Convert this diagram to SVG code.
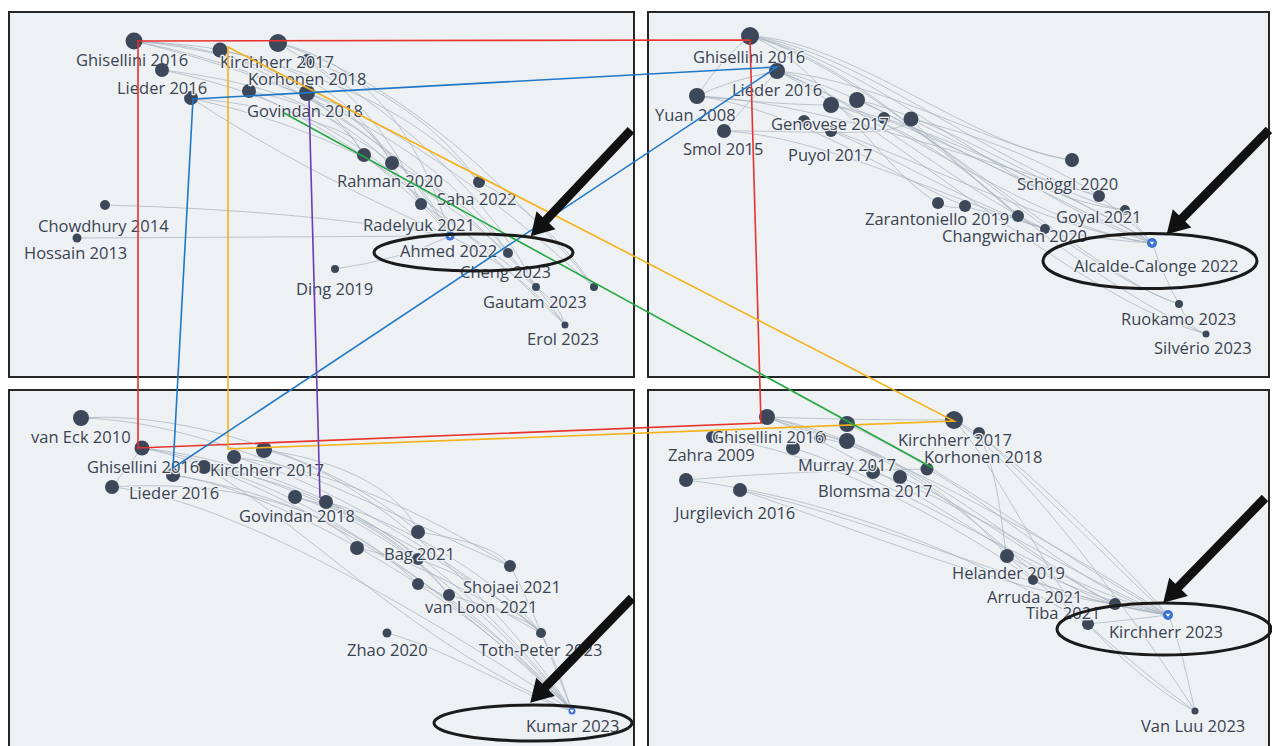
<svg xmlns="http://www.w3.org/2000/svg" xmlns:xlink="http://www.w3.org/1999/xlink" width="1272" height="746" viewBox="0 0 1272 746">
<style>
.panel{fill:#eef1f3;stroke:#262626;stroke-width:2}
.edge{fill:none;stroke:#a7b1bd;stroke-width:0.9;opacity:0.8}
.node{fill:#3c475a}
.sel{fill:#3a72d2}
.lbl{font-family:"Open Sans","Liberation Sans",sans-serif;font-size:16.5px;fill:#3a4352;paint-order:stroke;stroke:#eef1f3;stroke-width:2.5px;stroke-linejoin:round}
.hl{fill:none;stroke:#1a1a1a;stroke-width:3}
.arrow{fill:#111}
.c{fill:none;stroke-width:1.6}
</style>
<defs>
<path id="arr" d="M0,-4.5 L124,-4.5 L124,-13 L146,0 L124,13 L124,4.5 L0,4.5 Z"/>
<path id="chk" d="M-2.3,-1.3 L2.3,-1.3 L0,2.1 Z" fill="#ffffff"/>
</defs>
<rect width="1272" height="746" fill="#ffffff"/>
<g id="panels">
<rect class="panel" x="9" y="12" width="625" height="365"/>
<rect class="panel" x="648" y="12" width="621" height="365"/>
<rect class="panel" x="9" y="390" width="625" height="372"/>
<rect class="panel" x="648" y="390" width="621" height="372"/>
</g>
<g id="edges-tl">
<path class="edge" d="M134,41 Q300,50 364,155"/>
<path class="edge" d="M134,41 Q330,60 392,163"/>
<path class="edge" d="M134,41 Q380,90 450,236"/>
<path class="edge" d="M134,41 Q420,110 508,253"/>
<path class="edge" d="M134,41 Q200,45 220,50"/>
<path class="edge" d="M220,50 Q340,70 392,163"/>
<path class="edge" d="M220,50 Q400,90 479,182"/>
<path class="edge" d="M220,50 Q420,150 536,287"/>
<path class="edge" d="M278,43 Q400,70 450,236"/>
<path class="edge" d="M278,43 Q430,90 594,287"/>
<path class="edge" d="M278,43 Q380,100 421,204"/>
<path class="edge" d="M162,70 Q330,90 364,155"/>
<path class="edge" d="M162,70 Q360,110 450,236"/>
<path class="edge" d="M191,98 Q330,110 392,163"/>
<path class="edge" d="M191,98 Q380,140 508,253"/>
<path class="edge" d="M191,98 Q300,170 450,236"/>
<path class="edge" d="M249,91 Q360,110 421,204"/>
<path class="edge" d="M249,91 Q400,160 565,325"/>
<path class="edge" d="M307,93 Q380,120 450,236"/>
<path class="edge" d="M307,93 Q420,130 594,287"/>
<path class="edge" d="M307,60 Q420,100 479,182"/>
<path class="edge" d="M307,60 Q470,160 536,287"/>
<path class="edge" d="M364,155 Q420,200 450,236"/>
<path class="edge" d="M392,163 Q470,200 508,253"/>
<path class="edge" d="M479,182 Q540,210 594,287"/>
<path class="edge" d="M421,204 Q480,240 536,287"/>
<path class="edge" d="M450,236 Q520,270 565,325"/>
<path class="edge" d="M508,253 Q540,290 565,325"/>
<path class="edge" d="M536,287 Q560,305 565,325"/>
<path class="edge" d="M105,205 Q300,210 450,236"/>
<path class="edge" d="M77,238 L450,236"/>
<path class="edge" d="M335,269 Q400,260 450,236"/>
</g>
<g id="edges-tr">
<path class="edge" d="M750,36 C850,40 980,150 1072,160"/>
<path class="edge" d="M750,36 C860,50 1000,170 1099,196"/>
<path class="edge" d="M750,36 C870,60 1020,200 1152,243"/>
<path class="edge" d="M750,36 C850,60 950,160 1018,216"/>
<path class="edge" d="M750,36 C880,70 1050,260 1179,304"/>
<path class="edge" d="M750,36 C820,60 880,170 938,203"/>
<path class="edge" d="M777,71 C880,80 1000,150 1072,160"/>
<path class="edge" d="M777,71 C870,90 1020,200 1125,210"/>
<path class="edge" d="M777,71 C880,110 1040,230 1152,243"/>
<path class="edge" d="M777,71 C860,100 960,190 1045,229"/>
<path class="edge" d="M777,71 C880,120 1080,300 1206,334"/>
<path class="edge" d="M697,96 Q720,60 750,36"/>
<path class="edge" d="M697,96 Q730,80 777,71"/>
<path class="edge" d="M697,96 C800,100 950,150 1099,196"/>
<path class="edge" d="M697,96 C800,110 900,180 965,206"/>
<path class="edge" d="M697,96 Q780,105 831,105"/>
<path class="edge" d="M724,131 Q750,100 777,71"/>
<path class="edge" d="M724,131 C820,135 950,200 1045,229"/>
<path class="edge" d="M724,131 C800,130 900,140 911,119"/>
<path class="edge" d="M831,105 C920,120 1050,200 1152,243"/>
<path class="edge" d="M831,105 C930,130 1000,200 1018,216"/>
<path class="edge" d="M857,100 C950,120 1060,200 1125,210"/>
<path class="edge" d="M857,100 C940,130 1100,280 1179,304"/>
<path class="edge" d="M884,118 C980,150 1080,200 1152,243"/>
<path class="edge" d="M911,119 C1000,140 1060,170 1099,196"/>
<path class="edge" d="M911,119 C990,160 1120,220 1152,243"/>
<path class="edge" d="M911,119 C960,170 1100,290 1206,334"/>
<path class="edge" d="M831,131 C900,160 960,200 1045,229"/>
<path class="edge" d="M804,121 C900,150 1050,230 1152,243"/>
<path class="edge" d="M938,203 Q950,210 965,206"/>
<path class="edge" d="M965,206 Q990,215 1018,216"/>
<path class="edge" d="M1018,216 Q1030,225 1045,229"/>
<path class="edge" d="M1045,229 Q1100,240 1152,243"/>
<path class="edge" d="M1125,210 Q1140,230 1152,243"/>
<path class="edge" d="M1099,196 Q1130,220 1152,243"/>
<path class="edge" d="M1152,243 Q1165,280 1179,304"/>
<path class="edge" d="M1179,304 Q1190,330 1206,334"/>
</g>
<g id="edges-bl">
<path class="edge" d="M81,418 C200,410 350,470 418,532"/>
<path class="edge" d="M81,418 C220,420 400,520 510,566"/>
<path class="edge" d="M142,448 C260,460 380,520 418,559"/>
<path class="edge" d="M142,448 C260,470 480,600 572,711"/>
<path class="edge" d="M142,448 C280,470 460,560 541,633"/>
<path class="edge" d="M173,475 C280,490 470,600 572,711"/>
<path class="edge" d="M173,475 C260,490 340,520 357,548"/>
<path class="edge" d="M204,467 C300,480 400,530 449,595"/>
<path class="edge" d="M204,467 C320,490 480,620 572,711"/>
<path class="edge" d="M204,467 C300,520 420,650 572,711"/>
<path class="edge" d="M234,457 C330,470 420,510 510,566"/>
<path class="edge" d="M234,457 C330,480 480,580 541,633"/>
<path class="edge" d="M264,450 C340,460 400,490 418,532"/>
<path class="edge" d="M264,450 C360,470 500,600 572,711"/>
<path class="edge" d="M112,487 C220,480 330,500 418,584"/>
<path class="edge" d="M112,487 C240,500 450,630 572,711"/>
<path class="edge" d="M112,487 L142,448"/>
<path class="edge" d="M295,497 C360,510 420,560 449,595"/>
<path class="edge" d="M295,497 C380,520 500,620 572,711"/>
<path class="edge" d="M326,502 C400,520 500,580 541,633"/>
<path class="edge" d="M326,502 C420,540 520,640 572,711"/>
<path class="edge" d="M418,532 C470,540 500,550 510,566"/>
<path class="edge" d="M357,548 C420,560 480,600 541,633"/>
<path class="edge" d="M418,559 C480,580 530,620 541,633"/>
<path class="edge" d="M510,566 C530,600 560,680 572,711"/>
<path class="edge" d="M418,584 C470,600 530,670 572,711"/>
<path class="edge" d="M449,595 C500,610 530,620 541,633"/>
<path class="edge" d="M387,633 C450,650 530,700 572,711"/>
<path class="edge" d="M541,633 C555,660 565,690 572,711"/>
</g>
<g id="edges-br">
<path class="edge" d="M767,417 C850,420 920,420 954,420"/>
<path class="edge" d="M767,417 C900,450 1080,560 1168,615"/>
<path class="edge" d="M767,417 C880,440 960,500 1007,556"/>
<path class="edge" d="M767,417 C900,470 1050,590 1115,604"/>
<path class="edge" d="M767,417 Q800,430 847,441"/>
<path class="edge" d="M847,424 C950,470 1080,570 1168,615"/>
<path class="edge" d="M847,441 C950,480 1060,580 1115,604"/>
<path class="edge" d="M793,448 C900,480 1040,580 1168,615"/>
<path class="edge" d="M686,480 C800,470 900,470 927,469"/>
<path class="edge" d="M686,480 C850,500 1000,570 1088,624"/>
<path class="edge" d="M740,490 C880,520 1050,600 1168,615"/>
<path class="edge" d="M740,490 C860,530 1000,590 1115,604"/>
<path class="edge" d="M873,472 C960,500 1080,580 1168,615"/>
<path class="edge" d="M900,477 C980,510 1060,580 1115,604"/>
<path class="edge" d="M927,469 C990,500 1080,590 1168,615"/>
<path class="edge" d="M954,420 C1000,440 1120,560 1168,615"/>
<path class="edge" d="M954,420 C1020,460 1150,640 1195,711"/>
<path class="edge" d="M954,420 C1000,470 1060,600 1088,624"/>
<path class="edge" d="M979,433 C1000,480 1000,520 1007,556"/>
<path class="edge" d="M979,433 C1050,500 1150,600 1168,615"/>
<path class="edge" d="M1007,556 C1050,580 1100,600 1168,615"/>
<path class="edge" d="M1007,556 C1060,600 1150,680 1195,711"/>
<path class="edge" d="M1033,580 C1080,600 1140,610 1168,615"/>
<path class="edge" d="M1115,604 Q1140,610 1168,615"/>
<path class="edge" d="M1088,624 Q1130,620 1168,615"/>
<path class="edge" d="M1168,615 C1180,640 1190,690 1195,711"/>
<path class="edge" d="M1088,624 C1120,660 1170,700 1195,711"/>
<path class="edge" d="M820,438 C900,450 1000,540 1088,624"/>
<path class="edge" d="M712,437 C820,450 950,520 1033,580"/>
</g>
<g id="nodes-tl">
<g id="tl-ghisellini"><circle class="node" cx="134" cy="41" r="8.5"/><text class="lbl" x="76" y="66">Ghisellini 2016</text></g>
<g id="tl-n162"><circle class="node" cx="162" cy="70" r="7"/></g>
<g id="tl-lieder"><circle class="node" cx="191" cy="98" r="7"/><text class="lbl" x="117" y="94">Lieder 2016</text></g>
<g id="tl-n278"><circle class="node" cx="278" cy="43" r="9"/></g>
<g id="tl-n307"><circle class="node" cx="307" cy="60" r="6"/></g>
<g id="tl-kirchherr"><circle class="node" cx="220" cy="50" r="7.5"/><text class="lbl" x="220" y="68">Kirchherr 2017</text></g>
<g id="tl-n249"><circle class="node" cx="249" cy="91" r="7"/></g>
<g id="tl-korhonen"><circle class="node" cx="307" cy="93" r="8"/><text class="lbl" x="248" y="85">Korhonen 2018</text></g>
<g id="tl-govindan"><text class="lbl" x="247" y="117">Govindan 2018</text></g>
<g id="tl-n364"><circle class="node" cx="364" cy="155" r="7"/></g>
<g id="tl-rahman"><circle class="node" cx="392" cy="163" r="7"/><text class="lbl" x="337" y="187">Rahman 2020</text></g>
<g id="tl-saha"><circle class="node" cx="479" cy="182" r="6"/><text class="lbl" x="437" y="205">Saha 2022</text></g>
<g id="tl-n421"><circle class="node" cx="421" cy="204" r="6"/></g>
<g id="tl-radelyuk"><text class="lbl" x="363" y="231">Radelyuk 2021</text></g>
<g id="tl-ahmed"><circle class="sel" cx="450" cy="236" r="4.5"/><use href="#chk" x="450" y="236"/><text class="lbl" x="400" y="257">Ahmed 2022</text></g>
<g id="tl-n508"><circle class="node" cx="508" cy="253" r="5"/></g>
<g id="tl-cheng"><circle class="node" cx="536" cy="287" r="4"/><text class="lbl" x="460" y="278">Cheng 2023</text></g>
<g id="tl-gautam"><circle class="node" cx="594" cy="287" r="4"/><text class="lbl" x="483" y="308">Gautam 2023</text></g>
<g id="tl-erol"><circle class="node" cx="565" cy="325" r="3.5"/><text class="lbl" x="527" y="345">Erol 2023</text></g>
<g id="tl-ding"><circle class="node" cx="335" cy="269" r="4"/><text class="lbl" x="296" y="295">Ding 2019</text></g>
<g id="tl-chowdhury"><circle class="node" cx="105" cy="205" r="5"/><text class="lbl" x="38" y="232">Chowdhury 2014</text></g>
<g id="tl-hossain"><circle class="node" cx="77" cy="238" r="4.5"/><text class="lbl" x="24" y="259">Hossain 2013</text></g>
</g>
<g id="nodes-tr">
<g id="tr-ghisellini"><circle class="node" cx="750" cy="36" r="9"/><text class="lbl" x="693" y="63">Ghisellini 2016</text></g>
<g id="tr-lieder"><circle class="node" cx="777" cy="71" r="8"/><text class="lbl" x="732" y="96">Lieder 2016</text></g>
<g id="tr-yuan"><circle class="node" cx="697" cy="96" r="8"/><text class="lbl" x="655" y="121">Yuan 2008</text></g>
<g id="tr-smol"><circle class="node" cx="724" cy="131" r="7"/><text class="lbl" x="683" y="155">Smol 2015</text></g>
<g id="tr-n804"><circle class="node" cx="804" cy="121" r="6"/></g>
<g id="tr-n831b"><circle class="node" cx="831" cy="131" r="6"/></g>
<g id="tr-n831"><circle class="node" cx="831" cy="105" r="8"/></g>
<g id="tr-n857"><circle class="node" cx="857" cy="100" r="8"/></g>
<g id="tr-n884"><circle class="node" cx="884" cy="118" r="6"/></g>
<g id="tr-n911"><circle class="node" cx="911" cy="119" r="7.5"/></g>
<g id="tr-genovese"><text class="lbl" x="771" y="130">Genovese 2017</text></g>
<g id="tr-puyol"><text class="lbl" x="788" y="161">Puyol 2017</text></g>
<g id="tr-n938"><circle class="node" cx="938" cy="203" r="6"/></g>
<g id="tr-zarantoniello"><circle class="node" cx="965" cy="206" r="6"/><text class="lbl" x="865" y="225">Zarantoniello 2019</text></g>
<g id="tr-n1018"><circle class="node" cx="1018" cy="216" r="6"/></g>
<g id="tr-changwichan"><circle class="node" cx="1045" cy="229" r="5"/><text class="lbl" x="942" y="242">Changwichan 2020</text></g>
<g id="tr-schoggl"><circle class="node" cx="1072" cy="160" r="7"/><text class="lbl" x="1017" y="190">Schöggl 2020</text></g>
<g id="tr-n1099"><circle class="node" cx="1099" cy="196" r="6"/></g>
<g id="tr-goyal"><circle class="node" cx="1125" cy="210" r="5"/><text class="lbl" x="1056" y="223">Goyal 2021</text></g>
<g id="tr-alcalde"><circle class="sel" cx="1152" cy="243" r="5"/><use href="#chk" x="1152" y="243"/><text class="lbl" x="1074" y="272">Alcalde-Calonge 2022</text></g>
<g id="tr-ruokamo"><circle class="node" cx="1179" cy="304" r="4"/><text class="lbl" x="1121" y="325">Ruokamo 2023</text></g>
<g id="tr-silverio"><circle class="node" cx="1206" cy="334" r="3.5"/><text class="lbl" x="1154" y="354">Silvério 2023</text></g>
</g>
<g id="nodes-bl">
<g id="bl-vaneck"><circle class="node" cx="81" cy="418" r="8"/><text class="lbl" x="31" y="443">van Eck 2010</text></g>
<g id="bl-n173"><circle class="node" cx="173" cy="475" r="7"/></g>
<g id="bl-n204"><circle class="node" cx="204" cy="467" r="7"/></g>
<g id="bl-ghisellini"><circle class="node" cx="142" cy="448" r="7.5"/><text class="lbl" x="87" y="473">Ghisellini 2016</text></g>
<g id="bl-n234"><circle class="node" cx="234" cy="457" r="7"/></g>
<g id="bl-kirchherr"><circle class="node" cx="264" cy="450" r="8"/><text class="lbl" x="210" y="476">Kirchherr 2017</text></g>
<g id="bl-lieder"><circle class="node" cx="112" cy="487" r="7"/><text class="lbl" x="129" y="499">Lieder 2016</text></g>
<g id="bl-n295"><circle class="node" cx="295" cy="497" r="7"/></g>
<g id="bl-govindan"><circle class="node" cx="326" cy="502" r="7"/><text class="lbl" x="239" y="522">Govindan 2018</text></g>
<g id="bl-n418"><circle class="node" cx="418" cy="532" r="7"/></g>
<g id="bl-n357"><circle class="node" cx="357" cy="548" r="7"/></g>
<g id="bl-bag"><circle class="node" cx="418" cy="559" r="6"/><text class="lbl" x="384" y="560">Bag 2021</text></g>
<g id="bl-n510"><circle class="node" cx="510" cy="566" r="6"/></g>
<g id="bl-shojaei"><circle class="node" cx="418" cy="584" r="6"/><text class="lbl" x="463" y="593">Shojaei 2021</text></g>
<g id="bl-vanloon"><circle class="node" cx="449" cy="595" r="6"/><text class="lbl" x="425" y="613">van Loon 2021</text></g>
<g id="bl-zhao"><circle class="node" cx="387" cy="633" r="4.5"/><text class="lbl" x="347" y="656">Zhao 2020</text></g>
<g id="bl-tothpeter"><circle class="node" cx="541" cy="633" r="5"/><text class="lbl" x="479" y="656">Toth-Peter 2023</text></g>
<g id="bl-kumar"><circle class="sel" cx="572" cy="711" r="3.5"/><use href="#chk" x="572" y="711" transform="scale(1)"/><text class="lbl" x="526" y="732">Kumar 2023</text></g>
</g>
<g id="nodes-br">
<g id="br-n712"><circle class="node" cx="712" cy="437" r="6"/></g>
<g id="br-n820"><circle class="node" cx="820" cy="438" r="6"/></g>
<g id="br-n793"><circle class="node" cx="793" cy="448" r="7"/></g>
<g id="br-ghisellini"><circle class="node" cx="767" cy="417" r="8"/><text class="lbl" x="712" y="443">Ghisellini 2016</text></g>
<g id="br-n847a"><circle class="node" cx="847" cy="424" r="8"/></g>
<g id="br-n847b"><circle class="node" cx="847" cy="441" r="8"/></g>
<g id="br-zahra"><circle class="node" cx="686" cy="480" r="7"/><text class="lbl" x="668" y="461">Zahra 2009</text></g>
<g id="br-jurgilevich"><circle class="node" cx="740" cy="490" r="7"/><text class="lbl" x="675" y="519">Jurgilevich 2016</text></g>
<g id="br-murray"><circle class="node" cx="873" cy="472" r="7"/><text class="lbl" x="798" y="471">Murray 2017</text></g>
<g id="br-blomsma"><circle class="node" cx="900" cy="477" r="7"/><text class="lbl" x="818" y="497">Blomsma 2017</text></g>
<g id="br-n979"><circle class="node" cx="979" cy="433" r="6"/></g>
<g id="br-kirchherr17"><circle class="node" cx="954" cy="420" r="9"/><text class="lbl" x="898" y="446">Kirchherr 2017</text></g>
<g id="br-korhonen"><circle class="node" cx="927" cy="469" r="6.5"/><text class="lbl" x="924" y="463">Korhonen 2018</text></g>
<g id="br-helander"><circle class="node" cx="1007" cy="556" r="7"/><text class="lbl" x="952" y="579">Helander 2019</text></g>
<g id="br-arruda"><circle class="node" cx="1033" cy="580" r="5"/><text class="lbl" x="987" y="603">Arruda 2021</text></g>
<g id="br-n1115"><circle class="node" cx="1115" cy="604" r="6"/></g>
<g id="br-tiba"><circle class="node" cx="1088" cy="624" r="6"/><text class="lbl" x="1026" y="619">Tiba 2021</text></g>
<g id="br-kirchherr23"><circle class="sel" cx="1168" cy="615" r="5"/><use href="#chk" x="1168" y="615"/><text class="lbl" x="1109" y="638">Kirchherr 2023</text></g>
<g id="br-vanluu"><circle class="node" cx="1195" cy="711" r="3.5"/><text class="lbl" x="1141" y="732">Van Luu 2023</text></g>
</g>
<g id="connectors">
<path class="c" stroke="#e8322d" d="M138,41 L750,40 L761,423 L138,448 Z"/>
<path class="c" stroke="#f6b21b" d="M228,47 L954,421 L228,449 Z"/>
<path class="c" stroke="#1f77c9" d="M193,99 L777,67 L173,468 Z"/>
<path class="c" stroke="#25a844" d="M284,113 L933,468"/>
<path class="c" stroke="#6b3fb3" d="M309,100 L320,498"/>
</g>
<g id="highlights">
<ellipse class="hl" cx="473.5" cy="252.5" rx="99.5" ry="18.5"/>
<ellipse class="hl" cx="1150" cy="261" rx="107" ry="27.5"/>
<ellipse class="hl" cx="533" cy="723" rx="99" ry="18"/>
<ellipse class="hl" cx="1164" cy="629" rx="107" ry="26"/>
</g>
<g id="arrows">
<use class="arrow" href="#arr" transform="translate(631,130) rotate(133.3)"/>
<use class="arrow" href="#arr" transform="translate(1269,130) rotate(134.5)"/>
<use class="arrow" href="#arr" transform="translate(632,598) rotate(134.2)"/>
<use class="arrow" href="#arr" transform="translate(1265,498) rotate(134.2)"/>
</g>
</svg>
